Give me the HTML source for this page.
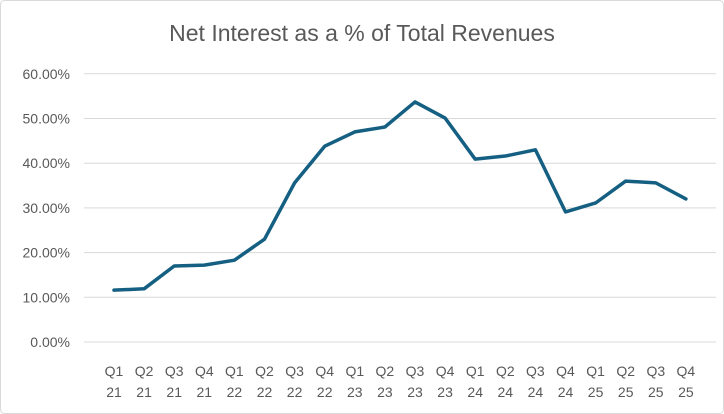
<!DOCTYPE html>
<html><head><meta charset="utf-8"><style>
body{margin:0;background:#fff;}
svg{display:block;font-family:"Liberation Sans",Arial,sans-serif;}
</style></head><body>
<svg id="chart" width="724" height="414">
<rect x="0.5" y="0.5" width="723" height="413" rx="4" fill="#fff" stroke="#d9d9d9"/>
<text x="362" y="41" text-anchor="middle" font-size="23" fill="#595959">Net Interest as a % of Total Revenues</text>
<g id="grid"></g><g id="ylabels"></g><g id="xlabels"></g><g id="series"></g>
</svg>
<script>
const categories=["Q1 21","Q2 21","Q3 21","Q4 21","Q1 22","Q2 22","Q3 22","Q4 22","Q1 23","Q2 23","Q3 23","Q4 23","Q1 24","Q2 24","Q3 24","Q4 24","Q1 25","Q2 25","Q3 25","Q4 25"];
const values=[11.6,11.9,17.0,17.2,18.3,23.0,35.6,43.8,47.0,48.1,53.7,50.1,40.9,41.6,43.0,29.1,31.1,36.0,35.6,32.0];
const yTicks=[0,10,20,30,40,50,60];
const yTickLabels=["0.00%","10.00%","20.00%","30.00%","40.00%","50.00%","60.00%"];
const NS="http://www.w3.org/2000/svg";
const x0=114,dx=30.1;
function xs(i){return x0+i*dx;}
function ys(v){return 342-v*4.47;}
const grid=document.getElementById('grid'),yl=document.getElementById('ylabels'),xl=document.getElementById('xlabels'),ser=document.getElementById('series');
yTicks.forEach((t,i)=>{
 const l=document.createElementNS(NS,'line');
 l.setAttribute('x1',84);l.setAttribute('x2',716);l.setAttribute('y1',ys(t));l.setAttribute('y2',ys(t));
 l.setAttribute('stroke','#d9d9d9');l.setAttribute('stroke-width','1');
 
 
 grid.appendChild(l);
 const tx=document.createElementNS(NS,'text');
 tx.setAttribute('x',70);tx.setAttribute('y',ys(t)+5);tx.setAttribute('text-anchor','end');
 tx.setAttribute('font-size','14');tx.setAttribute('fill','#595959');tx.textContent=yTickLabels[i];
 
 
 yl.appendChild(tx);
});
categories.forEach((c,i)=>{
 const parts=c.split(' ');
 parts.forEach((p,j)=>{
  const tx=document.createElementNS(NS,'text');
  tx.setAttribute('x',xs(i));tx.setAttribute('y',376+j*21);tx.setAttribute('text-anchor','middle');
  tx.setAttribute('font-size','14');tx.setAttribute('fill','#595959');tx.textContent=p;
  
  
  xl.appendChild(tx);
 });
});
const pl=document.createElementNS(NS,'polyline');
pl.setAttribute('points',values.map((v,i)=>xs(i)+','+ys(v)).join(' '));
pl.setAttribute('fill','none');pl.setAttribute('stroke','#156082');pl.setAttribute('stroke-width','3.5');
pl.setAttribute('stroke-linejoin','round');pl.setAttribute('stroke-linecap','round');


ser.appendChild(pl);
</script>
</body></html>
